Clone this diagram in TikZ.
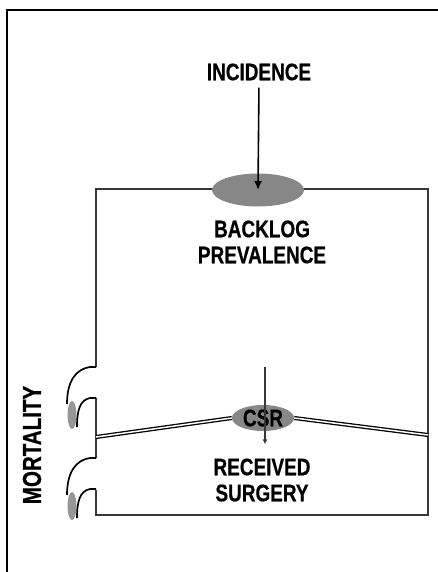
\documentclass[tikz,border=0pt]{standalone}
\usepackage{fontspec}
\setmainfont{Liberation Sans}[FakeStretch=0.79,BoldFeatures={FakeBold=0.6}]
\usetikzlibrary{shapes.geometric,arrows.meta}
\definecolor{wallgray}{RGB}{55,55,55}
\definecolor{poolgray}{RGB}{135,135,135}
\definecolor{dropgray}{RGB}{150,150,150}
\tikzset{
  lbl/.style={font=\fontsize{24}{26}\selectfont\bfseries, align=center, inner sep=1pt},
  wall/.style={draw=wallgray, line width=2pt},
  pipe/.style={draw=black, line width=1.3pt, double=white, double distance=1.5pt},
  flow/.style={-{Latex[length=9pt,width=8pt]}, line width=1.6pt},
  pool/.style={ellipse, fill=poolgray, inner sep=0pt},
}
\begin{document}
\begin{tikzpicture}[x=1pt,y=-1pt]
\useasboundingbox (0,0) rectangle (438,572);
\draw[line width=2pt](7,575)--(7,10)--(445,10);
% box with openings on the left
\draw[wall](96,367)--(96,189)--(428,189)--(428,515)--(96,515)--(96,490)
	(96,398)--(96,458);
% outflows
\foreach \dy in {0,91}{
	\fill[dropgray](72,{415+\dy}) ellipse (4.5 and 14);
	\draw[line width=1.7pt](96,{367+\dy})--(90,{367+\dy}) .. controls (76,{369+\dy}) and (67,{381+\dy}) .. (67,{404+\dy});
	\draw[line width=1.7pt](96,{398+\dy})--(90,{398+\dy}) .. controls (80,{400+\dy}) and (77,{410+\dy}) .. (77,{427+\dy});
}
\node[lbl](inc) at (259,72){INCIDENCE};
\node[pool, minimum width=92pt, minimum height=33pt](blg) at (258,190){};
\node[lbl](bp) at (262,242){BACKLOG\\PREVALENCE};
\node[lbl, pool, minimum width=62pt, minimum height=26pt](csr) at (263,418){CSR};
\node[lbl](rs) at (262,480){RECEIVED\\SURGERY};
\node[lbl, rotate=90, font=\fontsize{26}{28}\selectfont\bfseries](mort) at (32,445){MORTALITY};
\coordinate(csrin) at (265,367);
\draw[flow, shorten <=6pt](inc.south)--(blg.center);
\draw[-{Latex[length=5pt,width=5pt]}, draw=wallgray, line width=1.2pt, shorten >=13pt](csrin)--(csrin|-rs.north);
\draw[pipe](96,437)--(csr.west);
\draw[pipe](csr.east)--(428,435);
\end{tikzpicture}
\end{document}
